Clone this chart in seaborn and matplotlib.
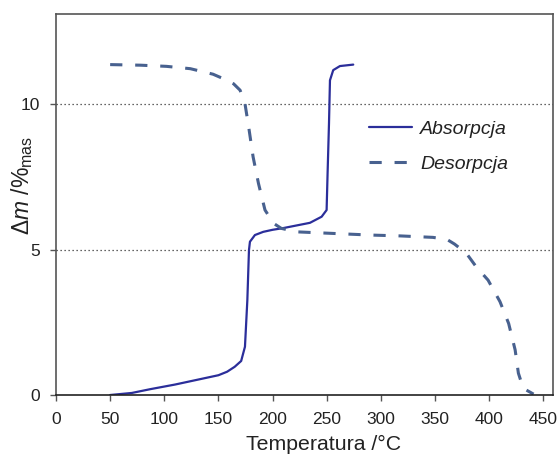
import numpy as np
import pandas as pd
import matplotlib
matplotlib.use("Agg")
import matplotlib.pyplot as plt
import seaborn as sns

# Data
abs_T = [50, 70, 87, 110, 130, 150, 158, 165, 171, 174.5, 176.7, 178.2, 179.1, 183.7,
         191.4, 200, 210, 234.5, 245.3, 249.9, 250.8, 252.1, 253, 256, 262.2, 274.5]
abs_m = [0, 0.07, 0.2, 0.36, 0.52, 0.68, 0.8, 0.97, 1.17, 1.66, 3.26, 4.98, 5.27, 5.5,
         5.61, 5.68, 5.74, 5.92, 6.13, 6.36, 7.62, 9.34, 10.82, 11.17, 11.31, 11.36]

des_T = [50, 78, 102, 124, 145, 158, 164, 170, 174.5, 178, 182, 187, 193, 201, 208, 222,
         253, 290, 318, 348, 361, 368, 379, 388, 399, 410, 418, 424, 427, 431.5, 441]
des_m = [11.36, 11.34, 11.3, 11.22, 11.03, 10.82, 10.7, 10.48, 10.02, 9.2, 8.19, 7.27,
         6.36, 5.9, 5.73, 5.61, 5.56, 5.5, 5.47, 5.42, 5.35, 5.19, 4.87, 4.41, 3.95, 3.21,
         2.46, 1.55, 0.75, 0.23, 0.03]

series_names = ["Absorpcja", "Desorpcja"]
x_ticks = [0, 50, 100, 150, 200, 250, 300, 350, 400, 450]
y_ticks = [0, 5, 10]

sns.set_style("white")
plt.rcParams["font.family"] = ["Liberation Sans", "DejaVu Sans"]
plt.rcParams["mathtext.fontset"] = "custom"
plt.rcParams["mathtext.rm"] = "Liberation Sans"
plt.rcParams["mathtext.it"] = "Liberation Sans:italic"
plt.rcParams["mathtext.sf"] = "Liberation Sans"

df_abs = pd.DataFrame({"T": abs_T, "m": abs_m})
df_des = pd.DataFrame({"T": des_T, "m": des_m})

fig = plt.figure(figsize=(5.58, 4.55), dpi=100)
ax = fig.add_axes([56 / 558, 60 / 455, 496.5 / 558, 381 / 455])

sns.lineplot(data=df_abs, x="T", y="m", ax=ax, sort=False, color="#2b2e9a",
             linewidth=1.6, label=series_names[0])
sns.lineplot(data=df_des, x="T", y="m", ax=ax, sort=False, color="#48618f",
             linewidth=2.2, dashes=False, label=series_names[1])
ax.lines[1].set_dashes((4.0, 4.2))

ax.set_xlim(0, 458.5)
ax.set_ylim(0, 13.1)
ax.set_xticks(x_ticks)
ax.set_yticks(y_ticks)

for yv in [5, 10]:
    ax.axhline(yv, color="#333333", linewidth=0.9, linestyle=(0, (1, 2.2)), zorder=0)

for sp in ax.spines.values():
    sp.set_visible(True)
    sp.set_color("#555555")
    sp.set_linewidth(1.2)
ax.spines["bottom"].set_color("#222222")

ax.tick_params(axis="both", direction="out", length=4.5, width=1.0, color="#555555",
               labelsize=12.5, labelcolor="#222222",
               bottom=True, left=True, top=False, right=False)
ax.tick_params(axis="x", pad=7.5)
ax.tick_params(axis="y", pad=7)

ax.set_xlabel("Temperatura /°C", fontsize=15.3, color="#222222")
ax.set_ylabel(r"$\Delta \mathit{m}$ /%$_{\mathrm{mas}}$", fontsize=16.5, color="#222222")
ax.xaxis.set_label_coords(0.538, -0.105)
ax.yaxis.set_label_coords(-0.042, 0.55)

leg = ax.legend(loc="upper left", bbox_to_anchor=(0.63, 0.722), frameon=False,
                fontsize=14, handlelength=2.2, handletextpad=0.45, labelspacing=0.9,
                borderpad=0, borderaxespad=0)
for t in leg.get_texts():
    t.set_fontstyle("italic")
    t.set_color("#222222")

fig.savefig("out.png", dpi=100)
